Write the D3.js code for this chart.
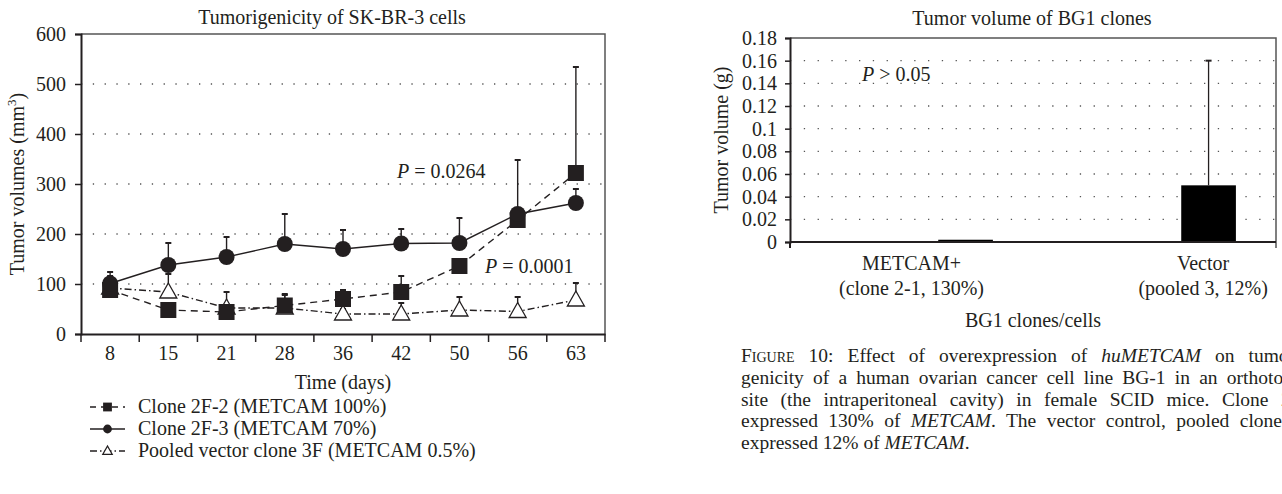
<!DOCTYPE html>
<html>
<head>
<meta charset="utf-8">
<script src="https://cdn.jsdelivr.net/npm/d3@7"></script>
<style>
body { margin: 0; background: #fff; overflow: hidden; }
svg { position: absolute; left: 0; top: 0; }
text { font-family: "Liberation Serif", serif; fill: #231f20; }
.caption { position: absolute; left: 741px; width: 566px; font-family: "Liberation Serif", serif;
  font-size: 19.5px; line-height: 22px; color: #231f20; white-space: nowrap;
  text-align: justify; text-align-last: justify; }
.caption.last { text-align-last: left; }
</style>
</head>
<body>
<svg id="chart" width="1282" height="494"></svg>
<script>
// left panel: SK-BR-3
var days = ["8", "15", "21", "28", "36", "42", "50", "56", "63"];
var clone2F2 = [88, 48, 44, 57, 70, 84, 136, 228, 322];
var clone2F2Err = [116, 48, 44, 80, 88, 116, 150, 348, 534];
var clone2F3 = [101, 138, 154, 180, 170, 181, 182, 240, 262];
var clone2F3Err = [124, 182, 194, 240, 208, 210, 232, 250, 290];
var vector3F = [92, 84, 52, 52, 40, 40, 48, 45, 68];
var vector3FErr = [100, 120, 84, 78, 50, 62, 74, 74, 102];
var leftTicks = [0, 100, 200, 300, 400, 500, 600];
var seriesNames = ["Clone 2F-2 (METCAM 100%)", "Clone 2F-3 (METCAM 70%)", "Pooled vector clone 3F (METCAM 0.5%)"];

// right panel: BG1
var bgClones = ["METCAM+", "Vector"];
var bgSub = ["(clone 2-1, 130%)", "(pooled 3, 12%)"];
var bgVolume = [0.002, 0.05];
var bgErr = [0.002, 0.16];
var rightTicks = [0, 0.02, 0.04, 0.06, 0.08, 0.1, 0.12, 0.14, 0.16, 0.18];
var rightTickLabels = ["0", "0.02", "0.04", "0.06", "0.08", "0.1", "0.12", "0.14", "0.16", "0.18"];

var captionLines = [
  "<span style='font-variant:small-caps'>Figure</span> 10: Effect of overexpression of <i>huMETCAM</i> on tumori-",
  "genicity of a human ovarian cancer cell line BG-1 in an orthotopic",
  "site (the intraperitoneal cavity) in female SCID mice. Clone 2-1",
  "expressed 130% of <i>METCAM</i>. The vector control, pooled clone 3,",
  "expressed 12% of <i>METCAM</i>."
];

var svg = d3.select("#chart");
var ink = "#231f20";

// ---------- left chart ----------
var x = d3.scaleBand().domain(days).range([81, 605]);
var y = d3.scaleLinear().domain([0, 600]).range([334, 34]);
var bw = x.bandwidth();
var cx = function(i) { return x(days[i]) + bw / 2; };

var left = svg.append("g");

left.selectAll(".grid").data(leftTicks.slice(1, -1)).enter().append("line")
  .attr("x1", 81).attr("x2", 605)
  .attr("y1", function(d) { return y(d); }).attr("y2", function(d) { return y(d); })
  .attr("stroke", "#555").attr("stroke-width", 1.3).attr("stroke-dasharray", "1.3,10.5");

// frame top and right
left.append("path").attr("d", "M81," + y(600) + "H605V" + y(0))
  .attr("fill", "none").attr("stroke", "#555").attr("stroke-width", 1.5);

var yAxis = left.append("g").attr("transform", "translate(81,0)")
  .call(d3.axisLeft(y).tickValues(leftTicks).tickSize(6).tickPadding(9));
yAxis.select(".domain").attr("stroke", ink).attr("stroke-width", 2);
yAxis.selectAll(".tick line").attr("stroke", ink).attr("stroke-width", 1.5);
yAxis.selectAll("text").attr("font-size", 20).attr("font-family", "Liberation Serif").attr("fill", ink);

var xAxis = left.append("g").attr("transform", "translate(0,334)")
  .call(d3.axisBottom(x).tickSize(0).tickPadding(12));
xAxis.select(".domain").attr("stroke", ink).attr("stroke-width", 2);
xAxis.selectAll("text").attr("font-size", 20).attr("font-family", "Liberation Serif").attr("fill", ink);
xAxis.selectAll(".bound").data(days.map(function(d) { return x(d); }).concat([605])).enter().append("line")
  .attr("x1", function(d) { return d; }).attr("x2", function(d) { return d; })
  .attr("y1", 0).attr("y2", 8).attr("stroke", ink).attr("stroke-width", 1.5);

var series = [
  { vals: vector3F, err: vector3FErr, dash: "7,3,1.5,3", sym: "tri" },
  { vals: clone2F2, err: clone2F2Err, dash: "7,5", sym: "sq" },
  { vals: clone2F3, err: clone2F3Err, dash: null, sym: "circ" }
];

var line = d3.line().x(function(d, i) { return cx(i); }).y(function(d) { return y(d); });

series.forEach(function(s) {
  left.append("path").attr("d", line(s.vals)).attr("fill", "none")
    .attr("stroke", ink).attr("stroke-width", 1.4)
    .attr("stroke-dasharray", s.dash);
});

series.forEach(function(s) {
  var g = left.append("g");
  s.err.forEach(function(e, i) {
    if (e <= s.vals[i]) return;
    g.append("line").attr("x1", cx(i)).attr("x2", cx(i))
      .attr("y1", y(s.vals[i])).attr("y2", y(e)).attr("stroke", ink).attr("stroke-width", 1.4);
    g.append("line").attr("x1", cx(i) - 3).attr("x2", cx(i) + 3)
      .attr("y1", y(e)).attr("y2", y(e)).attr("stroke", ink).attr("stroke-width", 2);
  });
});

function marker(g, sym, px, py, k) {
  if (sym === "sq") {
    g.append("rect").attr("x", px - 8 * k).attr("y", py - 8 * k)
      .attr("width", 16 * k).attr("height", 16 * k).attr("fill", ink);
  } else if (sym === "circ") {
    g.append("circle").attr("cx", px).attr("cy", py).attr("r", 8 * k).attr("fill", ink);
  } else {
    var h = 15 * k, w = 17 * k;
    g.append("path")
      .attr("d", "M" + px + "," + (py - h * 0.6) + "L" + (px + w / 2) + "," + (py + h * 0.4) +
        "L" + (px - w / 2) + "," + (py + h * 0.4) + "Z")
      .attr("fill", "#fff").attr("stroke", ink).attr("stroke-width", 1.3);
  }
}

series.forEach(function(s) {
  var g = left.append("g");
  s.vals.forEach(function(v, i) { marker(g, s.sym, cx(i), y(v), 1); });
});

// annotations
var p1 = left.append("text").attr("x", 397).attr("y", 178).attr("font-size", 20);
p1.append("tspan").attr("font-style", "italic").text("P");
p1.append("tspan").text(" = 0.0264");
var p2 = left.append("text").attr("x", 485).attr("y", 273).attr("font-size", 20);
p2.append("tspan").attr("font-style", "italic").text("P");
p2.append("tspan").text(" = 0.0001");

left.append("text").attr("x", 332).attr("y", 24).attr("text-anchor", "middle")
  .attr("font-size", 20).text("Tumorigenicity of SK-BR-3 cells");
left.append("text").attr("x", 343).attr("y", 389).attr("text-anchor", "middle")
  .attr("font-size", 20).text("Time (days)");
var yt = left.append("text").attr("transform", "translate(24,184) rotate(-90)")
  .attr("text-anchor", "middle").attr("font-size", 20);
yt.append("tspan").text("Tumor volumes (mm");
yt.append("tspan").attr("font-size", 13).attr("dy", -8).text("3");
yt.append("tspan").attr("dy", 8).text(")");

// legend
var legendOrder = [
  { name: seriesNames[0], dash: "6,5", sym: "sq" },
  { name: seriesNames[1], dash: null, sym: "circ" },
  { name: seriesNames[2], dash: "7,3,1.5,3", sym: "tri" }
];
legendOrder.forEach(function(d, i) {
  var ly = 407 + i * 22;
  var g = left.append("g");
  g.append("line").attr("x1", 90).attr("x2", 125).attr("y1", ly).attr("y2", ly)
    .attr("stroke", ink).attr("stroke-width", 1.4).attr("stroke-dasharray", d.dash);
  marker(g, d.sym, 107.5, ly, 0.55);
  g.append("text").attr("x", 138).attr("y", ly + 6).attr("font-size", 20).text(d.name);
});

// ---------- right chart ----------
var x2 = d3.scaleBand().domain(bgClones).range([790, 1276]);
var y2 = d3.scaleLinear().domain([0, 0.18]).range([242, 38]);
var bw2 = x2.bandwidth();

var right = svg.append("g");

right.selectAll(".grid").data(rightTicks.slice(1, -1)).enter().append("line")
  .attr("x1", 790).attr("x2", 1276)
  .attr("y1", function(d) { return y2(d); }).attr("y2", function(d) { return y2(d); })
  .attr("stroke", "#555").attr("stroke-width", 1.3).attr("stroke-dasharray", "1.3,12.5");

right.append("path").attr("d", "M790," + y2(0.18) + "H1276V" + (y2(0) + 6))
  .attr("fill", "none").attr("stroke", "#555").attr("stroke-width", 1.5);

right.selectAll(".bar").data(bgVolume).enter().append("rect")
  .attr("x", function(d, i) { return x2(bgClones[i]) + bw2 * 0.61; })
  .attr("width", bw2 * 0.225)
  .attr("y", function(d) { return y2(d); })
  .attr("height", function(d) { return y2(0) - y2(d); })
  .attr("fill", "#000");

bgErr.forEach(function(e, i) {
  if (e <= bgVolume[i]) return;
  var bx = x2(bgClones[i]) + bw2 * 0.7225;
  right.append("line").attr("x1", bx).attr("x2", bx).attr("y1", y2(bgVolume[i])).attr("y2", y2(e))
    .attr("stroke", ink).attr("stroke-width", 1.3);
  right.append("line").attr("x1", bx - 3).attr("x2", bx + 3).attr("y1", y2(e)).attr("y2", y2(e))
    .attr("stroke", ink).attr("stroke-width", 2);
});

var yAxis2 = right.append("g").attr("transform", "translate(790,0)")
  .call(d3.axisLeft(y2).tickValues(rightTicks)
    .tickFormat(function(d, i) { return rightTickLabels[i]; })
    .tickSize(5).tickPadding(8));
yAxis2.select(".domain").attr("stroke", ink).attr("stroke-width", 2);
yAxis2.selectAll(".tick line").attr("stroke", ink).attr("stroke-width", 1.5);
yAxis2.selectAll("text").attr("font-size", 20).attr("font-family", "Liberation Serif").attr("fill", ink);

right.append("line").attr("x1", 790).attr("x2", 1276).attr("y1", y2(0)).attr("y2", y2(0))
  .attr("stroke", ink).attr("stroke-width", 2);
right.append("line").attr("x1", 790).attr("x2", 790).attr("y1", y2(0)).attr("y2", y2(0) + 6)
  .attr("stroke", ink).attr("stroke-width", 2);

bgClones.forEach(function(c, i) {
  var lx = x2(c) + bw2 * (i === bgClones.length - 1 ? 0.7 : 0.5);
  right.append("text").attr("x", lx).attr("y", 270).attr("text-anchor", "middle")
    .attr("font-size", 20).text(c);
  right.append("text").attr("x", lx).attr("y", 295).attr("text-anchor", "middle")
    .attr("font-size", 20).text(bgSub[i]);
});

right.append("text").attr("x", 1033).attr("y", 327).attr("text-anchor", "middle")
  .attr("font-size", 20).text("BG1 clones/cells");
right.append("text").attr("x", 1032).attr("y", 25).attr("text-anchor", "middle")
  .attr("font-size", 20).text("Tumor volume of BG1 clones");
right.append("text").attr("transform", "translate(728,140) rotate(-90)")
  .attr("text-anchor", "middle").attr("font-size", 20).text("Tumor volume (g)");

var p3 = right.append("text").attr("x", 862).attr("y", 81).attr("font-size", 20);
p3.append("tspan").attr("font-style", "italic").text("P");
p3.append("tspan").text(" > 0.05");

// ---------- caption ----------
d3.select("body").selectAll(".caption").data(captionLines).enter().append("div")
  .attr("class", function(d, i) { return i === captionLines.length - 1 ? "caption last" : "caption"; })
  .style("top", function(d, i) { return (345 + i * 21.8) + "px"; })
  .html(function(d) { return d; });
</script>
</body>
</html>
